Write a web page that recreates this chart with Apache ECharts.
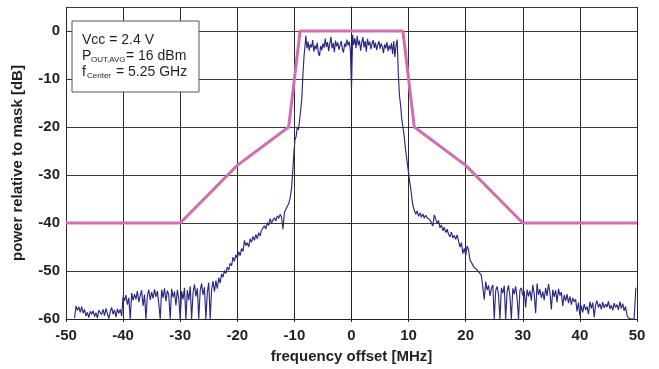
<!DOCTYPE html>
<html>
<head>
<meta charset="utf-8">
<script src="https://cdn.jsdelivr.net/npm/echarts@6/dist/echarts.min.js"></script>
<style>
  html, body { margin: 0; padding: 0; background: #fff; }
  #main { width: 659px; height: 369px; }
</style>
</head>
<body>
<div id="main"></div>
<script>
// spectral mask (802.11a style), [MHz, dBr]
var maskPoints = [
  [-50, -40], [-30, -40], [-20, -28], [-11, -20], [-9, 0],
  [9, 0], [11, -20], [20, -28], [30, -40], [50, -40]
];

var floorLeft = [
  [-48.5,-59.8],[-48.25,-57.3],[-48,-58.2],[-47.75,-57.5],[-47.5,-58.6],[-47.25,-57.4],[-47,-58.8],[-46.75,-58],
  [-46.5,-59.4],[-46.25,-58.6],[-46,-59.7],[-45.75,-58.4],[-45.5,-59],[-45.25,-58.3],[-45,-59.5],[-44.75,-58.7],
  [-44.5,-59.8],[-44.25,-58.2],[-44,-57.9],[-43.75,-59.1],[-43.5,-58],[-43.25,-59.3],[-43,-57.8],[-42.75,-58.9],
  [-42.5,-59.9],[-42.25,-58.5],[-42,-57.6],[-41.75,-59],[-41.5,-58.1],[-41.25,-59.6],[-41,-57.9],[-40.75,-58.8],
  [-40.5,-58],[-40.25,-59.4],[-40,-55.3],
  [-39.75,-56.2],[-39.5,-55],[-39.25,-57],[-39,-55.6],[-38.75,-60],[-38.5,-54.6],[-38.25,-56.1],[-38,-54.8],
  [-37.75,-55.9],[-37.5,-54.2],[-37.25,-56.5],[-37,-55.1],[-36.75,-54],[-36.5,-57.3],[-36.25,-54.9],[-36,-60],
  [-35.75,-55.2],[-35.5,-53.9],[-35.25,-56],[-35,-54.4],[-34.75,-55.7],[-34.5,-53.8],[-34.25,-55.4],[-34,-54.2],
  [-33.75,-56.8],[-33.5,-60],[-33.25,-53.9],[-33,-55.6],[-32.75,-53.6],[-32.5,-56.3],[-32.25,-54.1],[-32,-55],
  [-31.75,-60],[-31.5,-53.7],[-31.25,-55.5],[-31,-54.3],[-30.75,-57.2],[-30.5,-53.9],[-30.25,-55.8],[-30,-60],
  [-29.75,-54.2],[-29.5,-55.9],[-29.25,-53.5],[-29,-60],[-28.75,-54],[-28.5,-56.1],[-28.25,-53.2],[-28,-60],
  [-27.75,-54.6],[-27.5,-52.8],[-27.25,-55.3],[-27,-53.6],[-26.75,-60],[-26.5,-54.1],[-26.25,-52.6],[-26,-55],
  [-25.75,-53.4],[-25.5,-60],[-25.25,-54.5],[-25,-52.4],[-24.75,-60],[-24.5,-53.8],[-24.25,-52.1],[-24,-54.3],
  [-23.75,-52],[-23.5,-53.7],[-23.25,-51.4],[-23,-52.5]
];

var slopeLeft = [
  [-22.75,-50.6],[-22.5,-51.3],[-22.25,-49.9],[-22,-50.5],[-21.75,-49.2],[-21.5,-49.8],[-21.25,-48.4],[-21,-48.9],
  [-20.75,-47.1],[-20.5,-48],[-20.25,-46.6],[-20,-47.4],[-19.75,-46],[-19.5,-46.8],[-19.25,-45.3],[-19,-45.9],
  [-18.75,-43.6],[-18.5,-44.7],[-18.25,-44.1],[-18,-45],[-17.75,-43.3],[-17.5,-44],[-17.25,-42.8],[-17,-43.6],
  [-16.75,-42.4],[-16.5,-43.3],[-16.25,-42],[-16,-42.7],[-15.75,-41.5],[-15.5,-41.9],[-15.25,-40.6],[-15,-41.2],
  [-14.75,-39.9],[-14.5,-40.5],[-14.25,-39.1],[-14,-40],[-13.75,-39.4],[-13.5,-38.9],[-13.25,-39.6],[-13,-38.5],
  [-12.75,-39],[-12.5,-38.2],[-12.25,-38.8],[-12,-41.3],[-11.75,-37.7],[-11.5,-37.2],[-11.25,-36.5],
  [-11,-36],[-10.75,-34.8],[-10.5,-32.8],[-10.3,-29.5],[-10.1,-25.5],[-9.9,-22.6],[-9.7,-22],[-9.5,-20],
  [-9.3,-20.6],[-9.1,-18.7],[-8.9,-16.5],[-8.7,-14],[-8.5,-9],[-8.3,-5],[-8.1,-2.6]
];

var inBand = [
  [-8,-1],[-7.8,-3.6],[-7.6,-2.2],[-7.4,-4.1],[-7.2,-2.8],[-7,-3.4],[-6.8,-1.9],[-6.6,-4.3],[-6.4,-3],[-6.2,-3.8],
  [-6,-2.4],[-5.8,-4.6],[-5.6,-5.2],[-5.4,-3.1],[-5.2,-4],[-5,-2.6],[-4.8,-3.5],[-4.6,-1.6],[-4.4,-3.3],[-4.2,-2.3],
  [-4,-4.2],[-3.8,-2.7],[-3.6,-1.2],[-3.4,-3.6],[-3.2,-2.5],[-3,-4.4],[-2.8,-2],[-2.6,-3.2],[-2.4,-2.4],[-2.2,-3.9],
  [-2,-3],[-1.8,-2.1],[-1.6,-3.7],[-1.4,-4.5],[-1.2,-2.6],[-1,-3.3],[-0.8,-1.8],[-0.6,-3],[-0.4,-2.2],[-0.2,-4],
  [0,-12],[0.2,-0.8],[0.4,-2.9],[0.6,-1.5],[0.8,-3.6],[1,-1],[1.2,-3],[1.4,-2],[1.6,-4.1],[1.8,-2.4],
  [2,-1.3],[2.2,-3.4],[2.4,-2.1],[2.6,-4.3],[2.8,-1.6],[3,-3],[3.2,-2.2],[3.4,-3.8],[3.6,-2.6],[3.8,-1.9],
  [4,-3.5],[4.2,-2.4],[4.4,-4],[4.6,-2.9],[4.8,-2.1],[5,-3.7],[5.2,-2.6],[5.4,-3.3],[5.6,-4.6],[5.8,-2.8],
  [6,-3.6],[6.2,-2.3],[6.4,-4.2],[6.6,-3],[6.8,-3.9],[7,-2.5],[7.2,-4.8],[7.4,-2.1],[7.6,-5.4],[7.8,-3],[8,-1.8]
];

var slopeRight = [
  [8.2,-9],[8.4,-13.5],[8.6,-15.5],[8.8,-18.3],[9,-20],[9.2,-21.6],[9.4,-24],[9.6,-26],[9.8,-27.8],[10,-29.6],
  [10.2,-31.5],[10.4,-33],[10.6,-35.2],[10.8,-36.6],[11,-37.3],
  [11.25,-38.2],[11.5,-37.5],[11.75,-38.6],[12,-37.9],[12.25,-38.8],[12.5,-38.1],[12.75,-39],[13,-38.4],
  [13.25,-38.9],[13.5,-38.6],[13.75,-39.4],[14,-39.1],[14.25,-40.6],[14.5,-38.3],[14.75,-39.2],[15,-40.1],
  [15.25,-39.5],[15.5,-41],[15.75,-40.4],[16,-41.6],[16.25,-40.9],[16.5,-42],[16.75,-41.3],[17,-42.4],
  [17.25,-42.9],[17.5,-41.9],[17.75,-43.1],[18,-42.6],[18.25,-43.4],[18.5,-42.5],[18.75,-43.8],[19,-45],
  [19.25,-44.1],[19.5,-46.4],[19.75,-45.3],[20,-46.8],[20.25,-44.8],[20.5,-45.6],[20.75,-47.7],[21,-48.2],
  [21.25,-48],[21.5,-49.3],[21.75,-49],[22,-49.8],[22.25,-50.1],[22.5,-50.5],[22.75,-51]
];

var floorRight = [
  [23,-53.4],[23.25,-56],[23.5,-52.2],[23.75,-54],[24,-53],[24.25,-55.2],[24.5,-53.6],[24.75,-52.9],
  [25,-60],[25.25,-54.1],[25.5,-53.2],[25.75,-55],[26,-60],[26.25,-53.5],[26.5,-54.6],[26.75,-53.1],
  [27,-60],[27.25,-54.3],[27.5,-53],[27.75,-55.4],[28,-60],[28.25,-53.6],[28.5,-54.8],[28.75,-53.2],
  [29,-55.7],[29.25,-60],[29.5,-54],[29.75,-53.5],[30,-55.1],
  [30.25,-54.2],[30.5,-57.6],[30.75,-53.9],[31,-55.3],[31.25,-54.1],[31.5,-56.2],[31.75,-52.9],[32,-54.8],
  [32.25,-58.8],[32.5,-52.6],[32.75,-55],[33,-53.8],[33.25,-55.6],[33.5,-54.3],[33.75,-56.1],[34,-53.5],
  [34.25,-55.2],[34.5,-52.7],[34.75,-54.6],[35,-58],[35.25,-53.9],[35.5,-55.4],[35.75,-54],[36,-56.5],
  [36.25,-53.7],[36.5,-55.1],[36.75,-54.4],[37,-57.3],[37.25,-55],[37.5,-56.2],[37.75,-54.8],[38,-56.7],
  [38.25,-55.3],[38.5,-57],[38.75,-55.6],[39,-56.4],[39.25,-55.9],[39.5,-58.4],[39.75,-56.6],[40,-59.3],
  [40.25,-57.2],[40.5,-58.6],[40.75,-56.9],[41,-58.1],[41.25,-57.4],[41.5,-59],[41.75,-56.4],[42,-57.8],
  [42.25,-56.6],[42.5,-59.6],[42.75,-57],[43,-56.2],[43.25,-57.6],[43.5,-56.8],[43.75,-58],[44,-56.5],
  [44.25,-57.7],[44.5,-56.9],[44.75,-57.5],[45,-56.3],[45.25,-57.9],[45.5,-57.1],[45.75,-58.2],[46,-56.7],
  [46.25,-57.6],[46.5,-57],[46.75,-58.1],[47,-56.4],[47.25,-57.8],[47.5,-56.8],[47.75,-58.3],[48,-57.4],
  [48.25,-59.2],[48.5,-59.8],[48.75,-60],[49,-60],[49.25,-60],[49.5,-60],[49.75,-60],[49.8,-53.5]
];

var spectrum = floorLeft.concat(slopeLeft, inBand, slopeRight, floorRight);

var xTicks = { min: -50, max: 50, step: 10 };
var yTicks = { min: -60, max: 5, step: 10 };

var chartDom = document.getElementById('main');
var myChart = echarts.init(chartDom, null, { renderer: 'canvas' });

var font = 'Liberation Sans, Arial, sans-serif';

var option = {
  backgroundColor: '#fff',
  animation: false,
  grid: { left: 66, right: 22, top: 7, bottom: 49 },
  xAxis: {
    type: 'value',
    min: xTicks.min,
    max: xTicks.max,
    interval: xTicks.step,
    name: 'frequency offset [MHz]',
    nameLocation: 'middle',
    nameGap: 30,
    nameTextStyle: { fontFamily: font, fontWeight: 'bold', fontSize: 15, color: '#231f20' },
    axisLine: { show: true, onZero: false, lineStyle: { color: '#222', width: 1 } },
    axisTick: { show: true, inside: false, length: 3, lineStyle: { color: '#222' } },
    axisLabel: { fontFamily: font, fontWeight: 'bold', fontSize: 15, color: '#231f20', margin: 9 },
    splitLine: { show: true, lineStyle: { color: '#2a2a2a', width: 1 } }
  },
  yAxis: {
    type: 'value',
    min: yTicks.min,
    max: yTicks.max,
    interval: yTicks.step,
    name: 'power relative to mask [dB]',
    nameLocation: 'middle',
    nameGap: 41,
    nameTextStyle: { fontFamily: font, fontWeight: 'bold', fontSize: 15, color: '#231f20' },
    axisLine: { show: true, lineStyle: { color: '#222', width: 1 } },
    axisTick: { show: true, length: 4, lineStyle: { color: '#222' } },
    axisLabel: { fontFamily: font, fontWeight: 'bold', fontSize: 15, color: '#231f20', margin: 6, showMaxLabel: false },
    splitLine: { show: true, lineStyle: { color: '#3a3a3a', width: 1 } }
  },
  series: [
    {
      name: 'spectrum',
      type: 'line',
      data: spectrum,
      showSymbol: false,
      lineStyle: { color: '#2b2783', width: 1.15 },
      z: 3
    },
    {
      name: 'mask',
      type: 'line',
      data: maskPoints,
      showSymbol: false,
      lineStyle: { color: '#d36db3', width: 3 },
      z: 4
    }
  ],
  graphic: [
    {
      type: 'rect',
      shape: { x: 72, y: 21, width: 127, height: 71 },
      style: { fill: '#fff', stroke: '#555', lineWidth: 1 },
      z: 10
    },
    { type: 'text', x: 82, y: 40, z: 11,
      style: { text: 'Vcc = 2.4 V', font: '14px ' + font, fill: '#231f20', verticalAlign: 'middle' } },
    { type: 'text', x: 82, y: 56, z: 11,
      style: { text: 'P', font: '14px ' + font, fill: '#231f20', verticalAlign: 'middle' } },
    { type: 'text', x: 91, y: 60, z: 11,
      style: { text: 'OUT,AVG', font: '8px ' + font, fill: '#231f20', verticalAlign: 'middle' } },
    { type: 'text', x: 126, y: 56, z: 11,
      style: { text: '= 16 dBm', font: '14px ' + font, fill: '#231f20', verticalAlign: 'middle' } },
    { type: 'text', x: 82, y: 72, z: 11,
      style: { text: 'f', font: '14px ' + font, fill: '#231f20', verticalAlign: 'middle' } },
    { type: 'text', x: 87, y: 76, z: 11,
      style: { text: 'Center', font: '8px ' + font, fill: '#231f20', verticalAlign: 'middle' } },
    { type: 'text', x: 116, y: 72, z: 11,
      style: { text: '= 5.25 GHz', font: '14px ' + font, fill: '#231f20', verticalAlign: 'middle' } }
  ]
};

myChart.setOption(option, true);
window.onresize = function () {
  myChart.resize();
};
</script>
</body>
</html>
